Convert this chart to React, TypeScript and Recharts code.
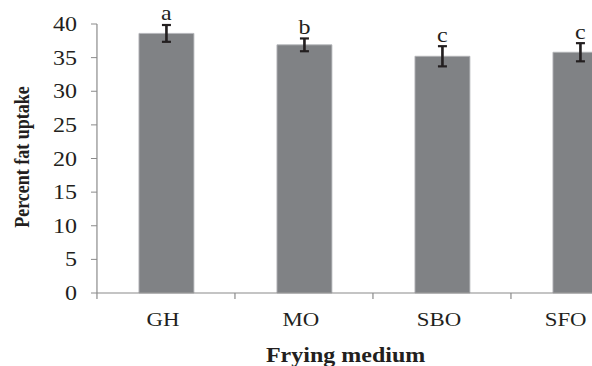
import { BarChart, Bar, XAxis, YAxis, ErrorBar, LabelList } from "recharts";

const categories = ["GH", "MO", "SBO", "SFO"];
const fatUptake = [38.6, 36.9, 35.2, 35.8];
const stdErr = [1.25, 0.95, 1.5, 1.35];
const letters = ["a", "b", "c", "c"];
const yTicks = [0, 5, 10, 15, 20, 25, 30, 35, 40];

const data = categories.map((name, i) => ({
  name,
  value: fatUptake[i],
  err: stdErr[i],
  letter: letters[i],
}));

const FONT = '"Liberation Serif", "Times New Roman", serif';
const INK = "#231f20";
const AXIS = "#8a8a8a";

// the original figure is stretched sideways, so the whole svg is scaled on x
const STRETCH = 1.2;
const W = 560;
const H = 366;
const Y_AXIS_W = 80.8;
const MARGIN = { top: 24, right: 19.2, bottom: 0, left: 0 };
const BAND = (W - Y_AXIS_W - MARGIN.right - MARGIN.left) / categories.length;

function CategoryTick(props: any) {
  const { x, y, payload, index } = props;
  const axisY = y - 20;
  const bx = x - BAND / 2;
  // last label is pushed in so it stays inside the figure, as in the original
  const last = index === categories.length - 1;
  return (
    <g>
      <line x1={bx} y1={axisY} x2={bx} y2={axisY + 6} stroke={AXIS} strokeWidth={1} />
      <text
        x={last ? x + 5.5 : x - 2.5}
        y={y}
        dy="0.71em"
        textAnchor={last ? "end" : "middle"}
        fontFamily={FONT}
        fontSize={19}
        fill={INK}
      >
        {payload.value}
      </text>
    </g>
  );
}

function LetterLabel(props: any) {
  const { x, y, width, height, index } = props;
  const row = data[index];
  const pxPerUnit = height / row.value;
  const top = y - row.err * pxPerUnit;
  return (
    <text x={x + width / 2} y={top - 4.5} textAnchor="middle" fontFamily={FONT} fontSize={20} fill={INK}>
      {row.letter}
    </text>
  );
}

export default function App() {
  return (
    <div
      style={{
        position: "fixed",
        left: 0,
        top: 0,
        width: 592,
        height: 366,
        overflow: "hidden",
        background: "#fff",
      }}
    >
      <div style={{ transform: `scaleX(${STRETCH})`, transformOrigin: "0 0", width: W, height: H }}>
        <BarChart width={W} height={H} data={data} margin={MARGIN}>
          <XAxis
            dataKey="name"
            height={73}
            axisLine={{ stroke: AXIS, strokeWidth: 1 }}
            tickLine={false}
            tickSize={6}
            tickMargin={14}
            tick={<CategoryTick />}
            interval={0}
            label={{
              content: () => (
                <text
                  x={288}
                  y={362}
                  textAnchor="middle"
                  fontFamily={FONT}
                  fontSize={20}
                  fontWeight="bold"
                  fill={INK}
                >
                  Frying medium
                </text>
              ),
            }}
          />
          <YAxis
            width={Y_AXIS_W}
            domain={[0, 40]}
            ticks={yTicks}
            interval={0}
            axisLine={{ stroke: AXIS, strokeWidth: 1 }}
            tickLine={{ stroke: AXIS, strokeWidth: 1 }}
            tickSize={5}
            tickMargin={11.6}
            tick={{ fontFamily: FONT, fontSize: 20, fill: INK }}
            label={{
              content: () => (
                <text
                  transform="translate(24, 157) rotate(-90)"
                  textAnchor="middle"
                  fontFamily={FONT}
                  fontSize={18}
                  fontWeight="bold"
                  fill={INK}
                >
                  Percent fat uptake
                </text>
              ),
            }}
          />
          <Bar
            dataKey="value"
            fill="#808285"
            stroke="#b4b5b8"
            strokeWidth={0.8}
            barSize={45.8}
            isAnimationActive={false}
          >
            <ErrorBar
              dataKey="err"
              direction="y"
              width={3.75}
              stroke={INK}
              strokeWidth={2.2}
              isAnimationActive={false}
            />
            <LabelList dataKey="letter" content={<LetterLabel />} />
          </Bar>
        </BarChart>
      </div>
    </div>
  );
}
